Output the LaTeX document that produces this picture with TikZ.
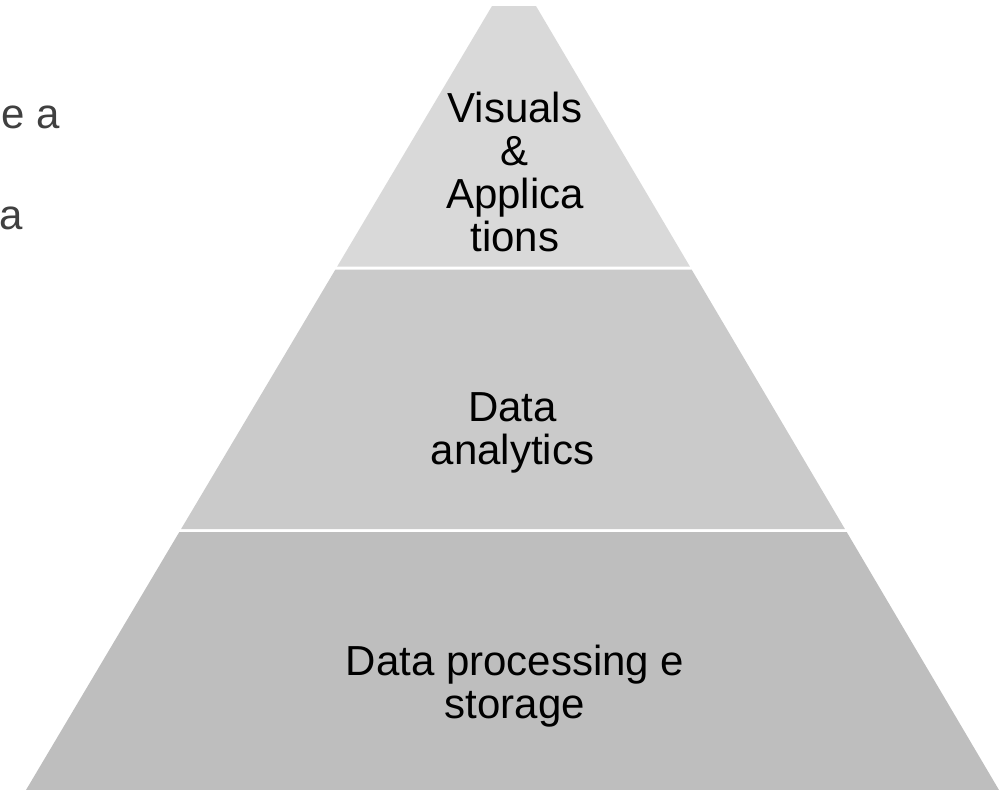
\documentclass[tikz,border=0pt]{standalone}
\usepackage{fontspec}
\setmainfont{Liberation Sans}
\begin{document}
\begin{tikzpicture}[x=1pt,y=-1pt,
  tierlabel/.style={inner sep=0pt,align=center,text=black,
    font=\fontsize{42}{43}\selectfont,anchor=north},
  sidetext/.style={inner sep=0pt,text={rgb,255:red,64;green,64;blue,64},
    font=\fontsize{42}{43}\selectfont,anchor=base east}]
  \definecolor{tiertop}{RGB}{217,217,217}
  \definecolor{tiermid}{RGB}{202,202,202}
  \definecolor{tierbase}{RGB}{190,190,190}
  \useasboundingbox (0,0) rectangle (999,790);
  \clip (0,0) rectangle (999,790);

  % pyramid tiers, top to bottom
  \fill[tiertop]  (492,6) -- (536,6) -- (689.9,266.5) -- (337.2,266.5) -- cycle;
  \fill[tiermid]  (335.4,269.5) -- (691.6,269.5) -- (844.9,529) -- (181.1,529) -- cycle;
  \fill[tierbase] (179.3,532) -- (846.7,532) -- (999,790) -- (26,790) -- cycle;

  % tier labels
  \node[tierlabel] (top)  at (515,92)  {Visuals\\\&\\Applica\\tions};
  \node[tierlabel] (mid)  at (512.5,392) {Data\\analytics};
  \node[tierlabel] (base) at (515,645) {Data processing e\\storage};

  % text running in from the left edge
  \node[sidetext] (lineone) at (60.5,128) {e a};
  \node[sidetext] (linetwo) at (23.5,229) {a};
\end{tikzpicture}
\end{document}
